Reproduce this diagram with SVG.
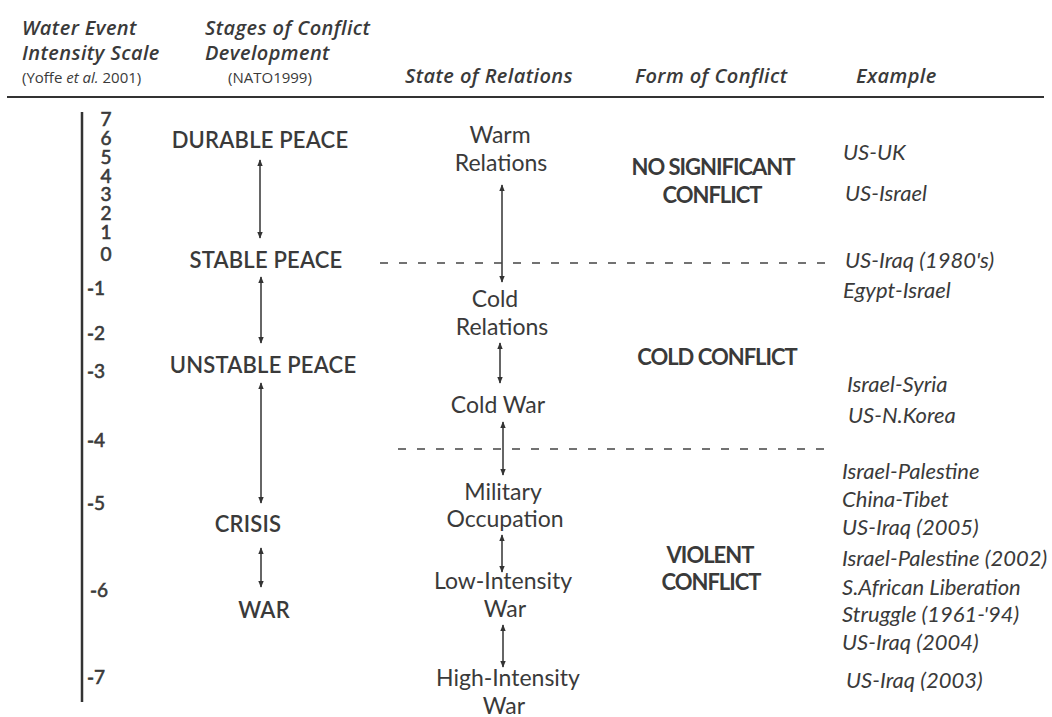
<svg xmlns="http://www.w3.org/2000/svg" width="1052" height="717" viewBox="0 0 1052 717">
<defs>
<marker id="ah" viewBox="0 0 10 10" refX="9" refY="5" markerWidth="7" markerHeight="7" markerUnits="userSpaceOnUse" orient="auto-start-reverse">
<path d="M0,1 L10,5 L0,9 Z" fill="#333"/>
</marker>
<style>
text{fill:#3a3a3a;font-family:Lato,"Noto Sans",sans-serif}
.hd{font-family:"Open Sans",Lato,sans-serif;font-size:20px;font-style:italic;font-weight:600;letter-spacing:0.4px}
.src{font-family:"Open Sans",Lato,sans-serif;font-size:15px;font-weight:400}
.num{font-family:"DejaVu Serif",serif;font-size:19px;stroke:#3a3a3a;stroke-width:0.6}
.stg{font-size:22px;font-weight:600;text-anchor:middle;letter-spacing:0.2px}
.rel{font-size:23px;text-anchor:middle}
.frm{font-size:22px;font-weight:700;text-anchor:middle;letter-spacing:-1px}
.ex{font-size:22px;font-style:italic}
.arr{stroke:#333;stroke-width:1.5;fill:none;marker-start:url(#ah);marker-end:url(#ah)}
.dash{stroke:#444;stroke-width:1.3;stroke-dasharray:8 11;fill:none}
</style>
</defs>
<rect width="1052" height="717" fill="#ffffff"/>

<g id="header">
<text class="hd" x="22" y="35">Water Event</text>
<text class="hd" x="22" y="60">Intensity Scale</text>
<text class="src" x="22" y="83">(Yoffe <tspan font-style="italic">et al.</tspan> 2001)</text>
<text class="hd" x="205" y="35">Stages of Conflict</text>
<text class="hd" x="205" y="60">Development</text>
<text class="src" x="228" y="83">(NATO1999)</text>
<text class="hd" x="405" y="83">State of Relations</text>
<text class="hd" x="635" y="83">Form of Conflict</text>
<text class="hd" x="856" y="83">Example</text>
<line x1="7" y1="97" x2="1044" y2="97" stroke="#333" stroke-width="2"/>
</g>

<g id="scale">
<line x1="82" y1="112" x2="82" y2="702" stroke="#333" stroke-width="2.5"/>
<g class="num" text-anchor="middle">
<text x="106" y="126">7</text>
<text x="106" y="145">6</text>
<text x="106" y="164">5</text>
<text x="106" y="183">4</text>
<text x="106" y="201">3</text>
<text x="106" y="220">2</text>
<text x="106" y="239">1</text>
<text x="106" y="261">0</text>
</g>
<g class="num">
<text x="87" y="295">-1</text>
<text x="87" y="340">-2</text>
<text x="87" y="378">-3</text>
<text x="87" y="447">-4</text>
<text x="87" y="510">-5</text>
<text x="90" y="597">-6</text>
<text x="87" y="684">-7</text>
</g>
</g>

<g id="durable-peace"><text class="stg" x="260" y="148">DURABLE PEACE</text></g>
<g id="stable-peace"><text class="stg" x="266" y="268">STABLE PEACE</text></g>
<g id="unstable-peace"><text class="stg" x="263" y="373">UNSTABLE PEACE</text></g>
<g id="crisis"><text class="stg" x="248" y="532">CRISIS</text></g>
<g id="war"><text class="stg" x="264" y="618">WAR</text></g>

<g id="warm-relations"><text class="rel" x="500" y="143">Warm</text><text class="rel" x="501" y="171">Relations</text></g>
<g id="cold-relations"><text class="rel" x="495" y="307">Cold</text><text class="rel" x="502" y="335">Relations</text></g>
<g id="cold-war"><text class="rel" x="498" y="413">Cold War</text></g>
<g id="military-occupation"><text class="rel" x="503" y="500">Military</text><text class="rel" x="505" y="527">Occupation</text></g>
<g id="low-intensity-war"><text class="rel" x="503" y="589">Low-Intensity</text><text class="rel" x="505" y="617">War</text></g>
<g id="high-intensity-war"><text class="rel" x="508" y="686">High-Intensity</text><text class="rel" x="504" y="714">War</text></g>

<g id="no-significant-conflict"><text class="frm" x="713" y="175">NO SIGNIFICANT</text><text class="frm" x="712" y="203">CONFLICT</text></g>
<g id="cold-conflict"><text class="frm" x="717" y="365">COLD CONFLICT</text></g>
<g id="violent-conflict"><text class="frm" x="710" y="563">VIOLENT</text><text class="frm" x="711" y="590">CONFLICT</text></g>

<g id="examples">
<text class="ex" x="843" y="160">US-UK</text>
<text class="ex" x="845" y="201">US-Israel</text>
<text class="ex" x="845" y="268">US-Iraq (1980's)</text>
<text class="ex" x="843" y="298">Egypt-Israel</text>
<text class="ex" x="847" y="392">Israel-Syria</text>
<text class="ex" x="848" y="423">US-N.Korea</text>
<text class="ex" x="842" y="479">Israel-Palestine</text>
<text class="ex" x="842" y="507">China-Tibet</text>
<text class="ex" x="842" y="535">US-Iraq (2005)</text>
<text class="ex" x="842" y="566">Israel-Palestine (2002)</text>
<text class="ex" x="842" y="595">S.African Liberation</text>
<text class="ex" x="842" y="622">Struggle (1961-'94)</text>
<text class="ex" x="842" y="650">US-Iraq (2004)</text>
<text class="ex" x="846" y="688">US-Iraq (2003)</text>
</g>

<g id="connectors">
<line class="arr" x1="260" y1="160" x2="260" y2="238"/>
<line class="arr" x1="261" y1="277" x2="261" y2="343"/>
<line class="arr" x1="261" y1="383" x2="261" y2="503"/>
<line class="arr" x1="261" y1="548" x2="261" y2="587"/>
<line class="arr" x1="502" y1="185" x2="502" y2="282"/>
<line class="arr" x1="500" y1="343" x2="500" y2="383"/>
<line class="arr" x1="503" y1="422" x2="503" y2="475"/>
<line class="arr" x1="502" y1="535" x2="502" y2="572"/>
<line class="arr" x1="503" y1="625" x2="503" y2="667"/>
<line class="dash" x1="380" y1="263" x2="828" y2="263"/>
<line class="dash" x1="398" y1="449" x2="828" y2="449"/>
</g>
</svg>
